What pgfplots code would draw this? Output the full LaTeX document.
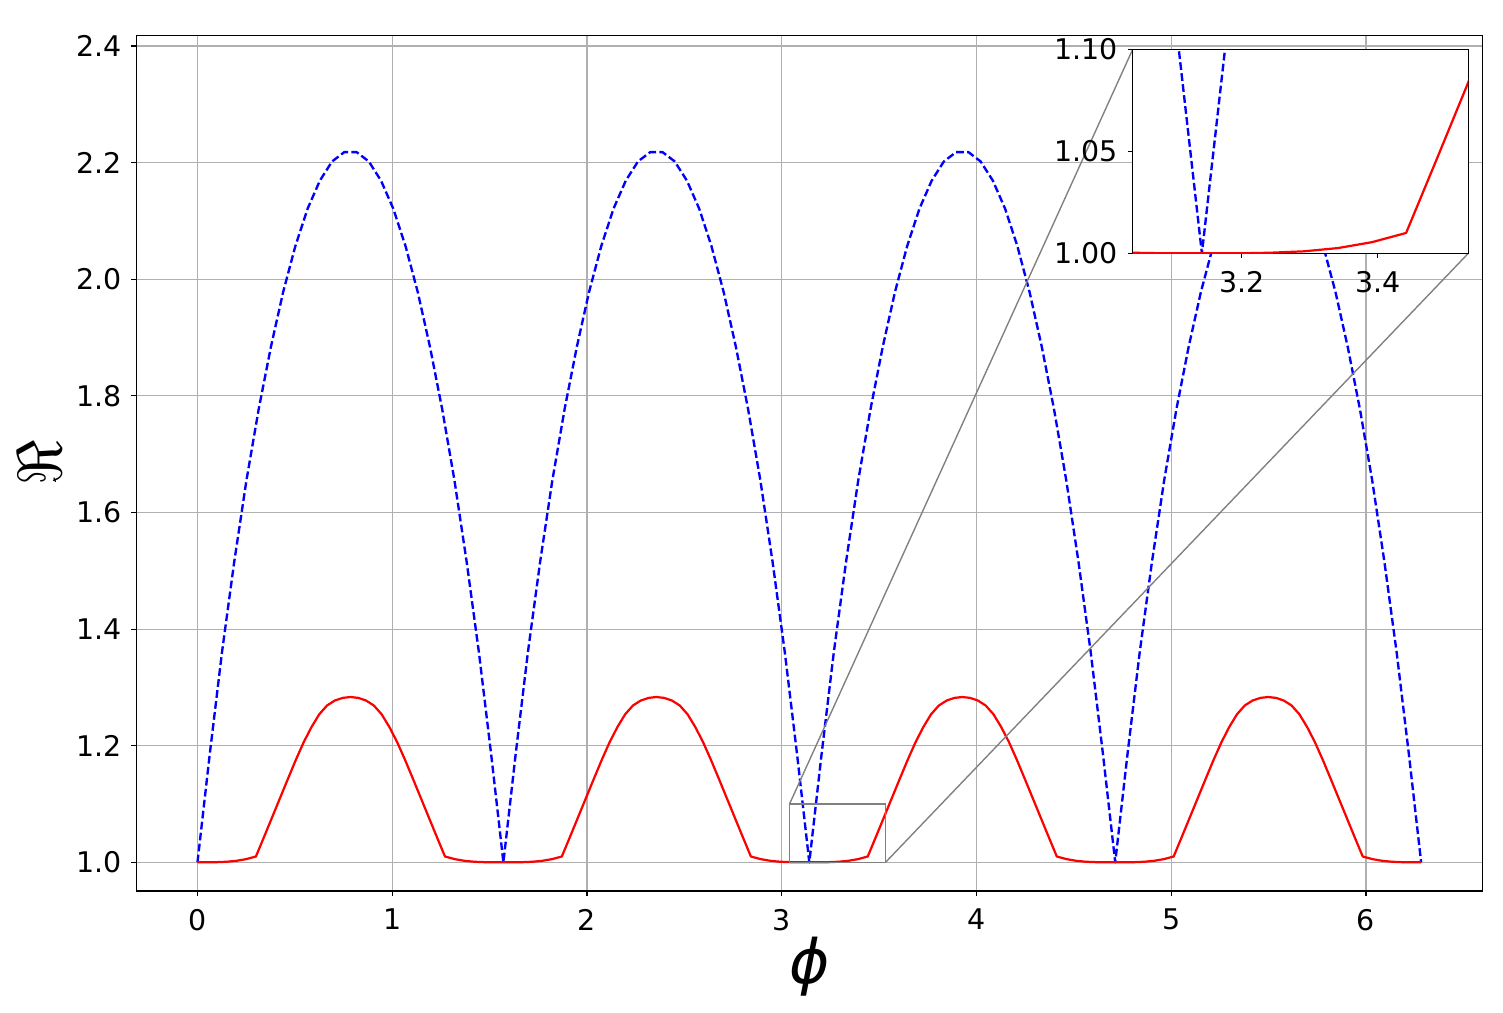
\documentclass[border=0pt]{standalone}
\usepackage{graphicx}
\usepackage{fontspec}
\setmainfont{DejaVu Sans}
\usepackage{pgfplots}
\usepackage{pgfplotstable}
\pgfplotsset{compat=1.18}
\definecolor{gridgray}{HTML}{B0B0B0}
\definecolor{insetgray}{HTML}{808080}

\pgfplotstableread{
x y
0.0000 1.000
0.0628 1.185
0.1257 1.360
0.1885 1.515
0.2513 1.655
0.3142 1.777
0.3770 1.884
0.4398 1.978
0.5027 2.057
0.5655 2.121
0.6283 2.169
0.6912 2.202
0.7540 2.218
0.8168 2.218
0.8796 2.202
0.9425 2.169
1.0053 2.121
1.0681 2.057
1.1310 1.978
1.1938 1.884
1.2566 1.777
1.3195 1.655
1.3823 1.515
1.4451 1.360
1.5080 1.185
1.5708 1.000
1.6336 1.185
1.6965 1.360
1.7593 1.515
1.8221 1.655
1.8850 1.777
1.9478 1.884
2.0106 1.978
2.0735 2.057
2.1363 2.121
2.1991 2.169
2.2619 2.202
2.3248 2.218
2.3876 2.218
2.4504 2.202
2.5133 2.169
2.5761 2.121
2.6389 2.057
2.7018 1.978
2.7646 1.884
2.8274 1.777
2.8903 1.655
2.9531 1.515
3.0159 1.360
3.0788 1.185
3.1416 1.000
3.2044 1.185
3.2673 1.360
3.3301 1.515
3.3929 1.655
3.4558 1.777
3.5186 1.884
3.5814 1.978
3.6442 2.057
3.7071 2.121
3.7699 2.169
3.8327 2.202
3.8956 2.218
3.9584 2.218
4.0212 2.202
4.0841 2.169
4.1469 2.121
4.2097 2.057
4.2726 1.978
4.3354 1.884
4.3982 1.777
4.4611 1.655
4.5239 1.515
4.5867 1.360
4.6496 1.185
4.7124 1.000
4.7752 1.185
4.8381 1.360
4.9009 1.515
4.9637 1.655
5.0265 1.777
5.0894 1.884
5.1522 1.978
5.2150 2.057
5.2779 2.121
5.3407 2.169
5.4035 2.202
5.4664 2.218
5.5292 2.218
5.5920 2.202
5.6549 2.169
5.7177 2.121
5.7805 2.057
5.8434 1.978
5.9062 1.884
5.9690 1.777
6.0319 1.655
6.0947 1.515
6.1575 1.360
6.2204 1.185
6.2832 1.000
}\bluedata

\pgfplotstableread{
x y
0.0000 1.0000
0.0500 1.0000
0.1000 1.0003
0.1500 1.0010
0.2000 1.0026
0.2500 1.0055
0.3000 1.0100
0.3454 1.0465
0.3854 1.0790
0.4254 1.1115
0.4654 1.1440
0.5054 1.1760
0.5454 1.2060
0.5854 1.2320
0.6254 1.2540
0.6654 1.2690
0.7054 1.2775
0.7454 1.2820
0.7854 1.2835
0.8254 1.2820
0.8654 1.2775
0.9054 1.2690
0.9454 1.2540
0.9854 1.2320
1.0254 1.2060
1.0654 1.1760
1.1054 1.1440
1.1454 1.1115
1.1854 1.0790
1.2254 1.0465
1.2708 1.0100
1.3208 1.0055
1.3708 1.0026
1.4208 1.0010
1.4708 1.0003
1.5208 1.0000
1.5708 1.0000
1.6208 1.0000
1.6708 1.0003
1.7208 1.0010
1.7708 1.0026
1.8208 1.0055
1.8708 1.0100
1.9162 1.0465
1.9562 1.0790
1.9962 1.1115
2.0362 1.1440
2.0762 1.1760
2.1162 1.2060
2.1562 1.2320
2.1962 1.2540
2.2362 1.2690
2.2762 1.2775
2.3162 1.2820
2.3562 1.2835
2.3962 1.2820
2.4362 1.2775
2.4762 1.2690
2.5162 1.2540
2.5562 1.2320
2.5962 1.2060
2.6362 1.1760
2.6762 1.1440
2.7162 1.1115
2.7562 1.0790
2.7962 1.0465
2.8416 1.0100
2.8916 1.0055
2.9416 1.0026
2.9916 1.0010
3.0416 1.0003
3.0916 1.0000
3.1416 1.0000
3.1916 1.0000
3.2416 1.0003
3.2916 1.0010
3.3416 1.0026
3.3916 1.0055
3.4416 1.0100
3.4870 1.0465
3.5270 1.0790
3.5670 1.1115
3.6070 1.1440
3.6470 1.1760
3.6870 1.2060
3.7270 1.2320
3.7670 1.2540
3.8070 1.2690
3.8470 1.2775
3.8870 1.2820
3.9270 1.2835
3.9670 1.2820
4.0070 1.2775
4.0470 1.2690
4.0870 1.2540
4.1270 1.2320
4.1670 1.2060
4.2070 1.1760
4.2470 1.1440
4.2870 1.1115
4.3270 1.0790
4.3670 1.0465
4.4124 1.0100
4.4624 1.0055
4.5124 1.0026
4.5624 1.0010
4.6124 1.0003
4.6624 1.0000
4.7124 1.0000
4.7624 1.0000
4.8124 1.0003
4.8624 1.0010
4.9124 1.0026
4.9624 1.0055
5.0124 1.0100
5.0578 1.0465
5.0978 1.0790
5.1378 1.1115
5.1778 1.1440
5.2178 1.1760
5.2578 1.2060
5.2978 1.2320
5.3378 1.2540
5.3778 1.2690
5.4178 1.2775
5.4578 1.2820
5.4978 1.2835
5.5378 1.2820
5.5778 1.2775
5.6178 1.2690
5.6578 1.2540
5.6978 1.2320
5.7378 1.2060
5.7778 1.1760
5.8178 1.1440
5.8578 1.1115
5.8978 1.0790
5.9378 1.0465
5.9832 1.0100
6.0332 1.0055
6.0832 1.0026
6.1332 1.0010
6.1832 1.0003
6.2332 1.0000
6.2832 1.0000
}\reddata

\pgfplotsset{
  mpl/.style={
    scale only axis,
    axis line style={line width=0.8pt},
    every tick/.style={black, line width=0.8pt},
    major tick length=3.5pt,
    tick align=outside,
    tick pos=left,
    tick label style={font=\fontsize{20.5}{24}\selectfont},
    /pgf/number format/assume math mode=true,
    every tick label/.append style={inner sep=0pt},
    xticklabel style={anchor=north, yshift=-9.4pt},
    yticklabel style={anchor=east, xshift=-7pt},
  },
  bluestyle/.style={blue, line width=1.7pt, line join=round, dash pattern=on 5.55pt off 2.4pt},
  redstyle/.style={red, line width=1.6pt, line join=round},
}

\begin{document}
\begin{tikzpicture}
\path[use as bounding box] (-98.14pt,-87.12pt) rectangle (984.0pt,641.52pt);

\begin{axis}[mpl,
  name=main, at={(0,0)}, anchor=south west,
  width=969.1pt, height=616.1pt,
  xmin=-0.31416, xmax=6.59734, ymin=0.9508, ymax=2.4183,
  xtick={0,1,2,3,4,5,6},
  ytick={1.0,1.2,1.4,1.6,1.8,2.0,2.2,2.4},
  yticklabel style={/pgf/number format/.cd, fixed, fixed zerofill, precision=1},
  grid=major, grid style={gridgray, line width=0.8pt},
  xlabel={\fontsize{44}{52}\selectfont\itshape ϕ},
  xlabel style={at={(axis description cs:0.5,-0.0538)}, anchor=north, inner sep=0pt},
  ylabel={\scalebox{4.5}{$\Re$}},
  ylabel style={at={(axis description cs:-0.0879,0.5)}, anchor=north, inner sep=0pt},
]
\addplot[bluestyle] table {\bluedata};
\addplot[redstyle] table {\reddata};
\draw[insetgray, line width=1pt] (axis cs:3.04,1.0) rectangle (axis cs:3.533,1.1);
\coordinate (rtl) at (axis cs:3.04,1.1);
\coordinate (rbr) at (axis cs:3.533,1.0);
\end{axis}

\draw[insetgray, line width=1pt] (rtl) -- (717.4pt,606.0pt);
\draw[insetgray, line width=1pt] (rbr) -- (959.0pt,459.1pt);

\begin{axis}[mpl,
  at={(717.4pt,459.1pt)}, anchor=south west,
  width=241.6pt, height=146.9pt,
  xmin=3.04, xmax=3.533, ymin=1.0, ymax=1.1,
  xtick={3.2,3.4},
  ytick={1.00,1.05,1.10},
  yticklabel style={/pgf/number format/.cd, fixed, fixed zerofill, precision=2},
  xticklabel style={/pgf/number format/.cd, fixed, fixed zerofill, precision=1},
  axis background/.style={fill=white},
]
\addplot[bluestyle] table {\bluedata};
\addplot[redstyle] table {\reddata};
\end{axis}
\end{tikzpicture}
\end{document}
